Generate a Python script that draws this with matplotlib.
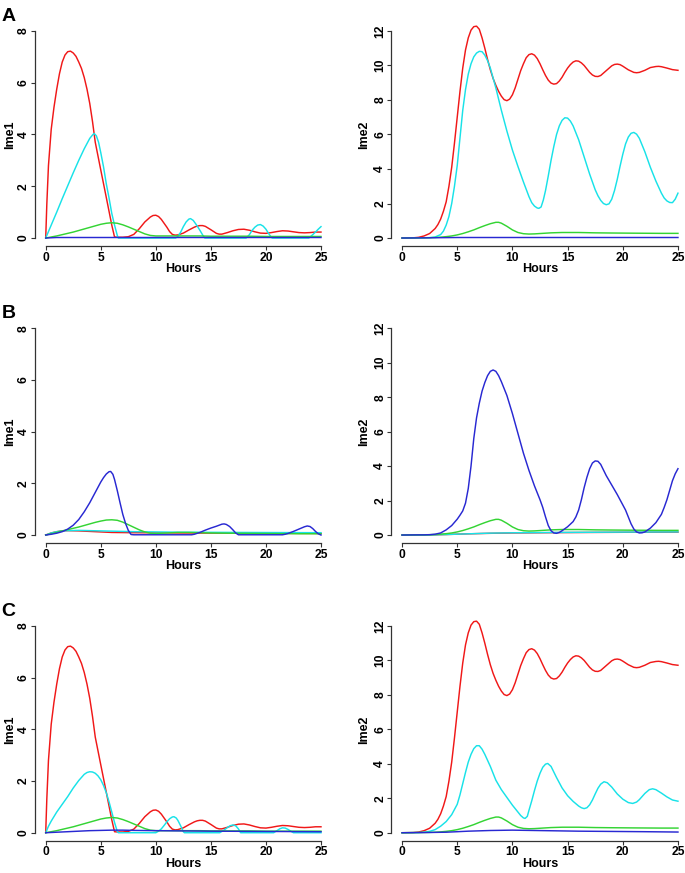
import matplotlib
matplotlib.use('Agg')
import matplotlib.pyplot as plt

plt.rcParams['font.family'] = ['Liberation Sans', 'DejaVu Sans']

# ---------------- data (hour, level) ----------------
# Ime1, red (panels A and C)
ime1_red = [(0, 0), (0.1, 1.3), (0.25, 2.8), (0.5, 4.2), (0.75, 5.05), (1, 5.75), (1.25, 6.35),
            (1.5, 6.8), (1.75, 7.07), (2, 7.2), (2.25, 7.22), (2.5, 7.15), (2.75, 7.02),
            (3, 6.8), (3.25, 6.55), (3.5, 6.2), (3.75, 5.75), (4, 5.2), (4.25, 4.5),
            (4.5, 3.7), (5, 2.63), (5.5, 1.57), (6, 0.5), (6.25, 0.04), (6.5, 0.03),
            (7, 0.03), (7.5, 0.05), (8, 0.14), (8.5, 0.36), (9, 0.62), (9.5, 0.81),
            (9.75, 0.87), (10, 0.88), (10.25, 0.83), (10.5, 0.72), (11, 0.42), (11.25, 0.25),
            (11.5, 0.14), (11.75, 0.11), (12, 0.12), (12.5, 0.19), (13, 0.31), (13.5, 0.42),
            (13.75, 0.46), (14, 0.48), (14.25, 0.48), (14.5, 0.45), (15, 0.32), (15.5, 0.18),
            (15.75, 0.15), (16, 0.15), (16.5, 0.21), (17, 0.28), (17.5, 0.33), (18, 0.34),
            (18.5, 0.3), (19, 0.24), (19.5, 0.19), (20, 0.18), (20.5, 0.21), (21, 0.25),
            (21.5, 0.28), (22, 0.27), (22.5, 0.24), (23, 0.21), (23.5, 0.2), (24, 0.21),
            (24.5, 0.23), (25, 0.23)]

ime1_cyan_A = [(0, 0), (0.5, 0.5), (1, 1.0), (1.5, 1.52), (2, 2.02), (2.5, 2.52), (3, 3.0),
               (3.5, 3.45), (4, 3.85), (4.25, 3.98), (4.4, 4.04), (4.6, 3.95), (4.8, 3.7),
               (5, 3.3), (5.25, 2.75), (5.5, 2.1), (5.75, 1.55), (6, 0.95), (6.25, 0.5),
               (6.5, 0.1), (6.6, 0.0), (11.8, 0.0), (12, 0.06), (12.25, 0.22), (12.5, 0.44),
               (12.75, 0.62), (13, 0.73), (13.15, 0.75), (13.4, 0.68), (13.75, 0.47),
               (14, 0.3), (14.25, 0.12), (14.45, 0.0), (18.2, 0.0), (18.5, 0.13),
               (18.75, 0.3), (19, 0.42), (19.25, 0.5), (19.5, 0.52), (19.75, 0.46),
               (20, 0.34), (20.25, 0.17), (20.5, 0.02), (20.6, 0.0), (23.9, 0.0),
               (24.25, 0.13), (24.5, 0.23), (24.75, 0.34), (25, 0.44)]

ime1_green = [(0, 0), (0.5, 0.04), (1, 0.08), (1.5, 0.13), (2, 0.18), (2.5, 0.23), (3, 0.29),
              (3.5, 0.35), (4, 0.41), (4.5, 0.47), (5, 0.53), (5.5, 0.57), (6, 0.59),
              (6.5, 0.57), (7, 0.51), (7.5, 0.43), (8, 0.34), (8.5, 0.25), (9, 0.16),
              (9.5, 0.1), (10, 0.08), (14, 0.08), (15, 0.07), (18.5, 0.07), (20, 0.06),
              (25, 0.06)]

ime1_blue_A = [(0, 0), (1, 0.02), (25, 0.02)]

# Ime2 (panels A and C)
ime2_red = [(0, 0), (1, 0.01), (1.5, 0.04), (2, 0.12), (2.5, 0.26), (3, 0.55), (3.25, 0.78),
            (3.5, 1.1), (3.75, 1.55), (4, 2.1), (4.25, 3.0), (4.5, 4.1), (4.75, 5.5),
            (5, 7.0), (5.25, 8.5), (5.5, 9.85), (5.75, 10.9), (6, 11.6), (6.25, 12.05),
            (6.5, 12.25), (6.75, 12.28), (7, 12.1), (7.25, 11.6), (7.5, 11.0), (7.75, 10.35),
            (8, 9.75), (8.25, 9.25), (8.5, 8.85), (8.75, 8.5), (9, 8.22), (9.25, 8.02),
            (9.5, 7.96), (9.75, 8.05), (10, 8.3), (10.25, 8.7), (10.5, 9.2), (10.75, 9.7),
            (11, 10.1), (11.25, 10.45), (11.5, 10.63), (11.75, 10.68), (12, 10.6),
            (12.25, 10.4), (12.5, 10.1), (12.75, 9.75), (13, 9.42), (13.25, 9.15),
            (13.5, 8.98), (13.75, 8.92), (14, 8.95), (14.25, 9.1), (14.5, 9.32), (14.75, 9.6),
            (15, 9.85), (15.25, 10.05), (15.5, 10.2), (15.75, 10.27), (16, 10.25),
            (16.25, 10.15), (16.5, 10.0), (16.75, 9.8), (17, 9.6), (17.25, 9.45),
            (17.5, 9.37), (17.75, 9.36), (18, 9.42), (18.5, 9.7), (19, 9.98), (19.25, 10.06),
            (19.5, 10.08), (19.75, 10.05), (20, 9.96), (20.5, 9.75), (21, 9.6),
            (21.25, 9.58), (21.5, 9.6), (22, 9.72), (22.5, 9.88), (23, 9.94), (23.25, 9.95),
            (23.5, 9.93), (24, 9.85), (24.5, 9.76), (25, 9.72)]

ime2_cyan_A = [(0, 0), (2, 0.01), (2.5, 0.02), (3, 0.06), (3.5, 0.2), (3.75, 0.4), (4, 0.75),
               (4.25, 1.25), (4.5, 2.0), (4.75, 3.0), (5, 4.2), (5.25, 5.8), (5.5, 7.4),
               (5.75, 8.6), (6, 9.5), (6.25, 10.1), (6.5, 10.5), (6.75, 10.72), (7, 10.82),
               (7.25, 10.8), (7.5, 10.6), (7.75, 10.28), (8, 9.85), (8.5, 8.7), (9, 7.4),
               (9.5, 6.2), (10, 5.1), (10.5, 4.15), (11, 3.25), (11.5, 2.4), (11.75, 2.05),
               (12, 1.85), (12.25, 1.74), (12.4, 1.72), (12.6, 1.8), (12.8, 2.2), (13, 2.75),
               (13.25, 3.6), (13.5, 4.5), (13.75, 5.3), (14, 6.0), (14.25, 6.5), (14.5, 6.82),
               (14.75, 6.97), (15, 6.95), (15.25, 6.78), (15.5, 6.5), (16, 5.7), (16.5, 4.7),
               (17, 3.7), (17.5, 2.8), (17.75, 2.45), (18, 2.18), (18.25, 2.0), (18.5, 1.93),
               (18.75, 1.98), (19, 2.25), (19.25, 2.75), (19.5, 3.4), (19.75, 4.15),
               (20, 4.85), (20.25, 5.45), (20.5, 5.85), (20.75, 6.07), (21, 6.12),
               (21.25, 6.02), (21.5, 5.78), (22, 5.0), (22.5, 4.1), (23, 3.3), (23.5, 2.6),
               (23.75, 2.32), (24, 2.15), (24.25, 2.06), (24.5, 2.05), (24.75, 2.25),
               (25, 2.6)]

ime2_green = [(0, 0), (1.5, 0.01), (2.5, 0.02), (3, 0.03), (3.5, 0.05), (4, 0.08), (4.5, 0.12),
              (5, 0.18), (5.5, 0.26), (6, 0.36), (6.5, 0.47), (7, 0.6), (7.5, 0.72),
              (8, 0.83), (8.5, 0.91), (8.75, 0.91), (9, 0.86), (9.5, 0.68), (10, 0.47),
              (10.5, 0.32), (11, 0.25), (11.5, 0.23), (12, 0.24), (12.5, 0.26), (13, 0.28),
              (13.5, 0.3), (14, 0.31), (14.5, 0.32), (16, 0.32), (17.5, 0.3), (19, 0.29),
              (21, 0.28), (23.5, 0.27), (25, 0.27)]

ime2_blue_A = [(0, 0), (2, 0.01), (5, 0.03), (25, 0.03)]

# Panel B
ime1_blue_B = [(0, 0), (0.5, 0.03), (1, 0.07), (1.5, 0.13), (2, 0.23), (2.5, 0.38), (3, 0.6),
               (3.5, 0.9), (4, 1.25), (4.5, 1.65), (5, 2.05), (5.25, 2.22), (5.5, 2.36),
               (5.75, 2.45), (5.9, 2.46), (6.1, 2.35), (6.25, 2.15), (6.5, 1.72), (6.75, 1.25),
               (7, 0.8), (7.25, 0.45), (7.5, 0.18), (7.75, 0.02), (8, 0.01), (13.25, 0.01),
               (13.5, 0.03), (14, 0.1), (14.5, 0.19), (15, 0.27), (15.5, 0.34), (15.75, 0.38),
               (16, 0.42), (16.2, 0.43), (16.4, 0.41), (16.7, 0.33), (17, 0.2), (17.25, 0.08),
               (17.5, 0.01), (21.5, 0.01), (21.75, 0.03), (22, 0.06), (22.5, 0.14),
               (23, 0.23), (23.5, 0.32), (23.75, 0.35), (24, 0.33), (24.25, 0.25),
               (24.5, 0.14), (24.75, 0.05), (25, 0.0)]

ime1_green_B = [(0, 0), (0.5, 0.05), (1, 0.1), (1.5, 0.16), (2, 0.21), (2.5, 0.26), (3, 0.31),
                (3.5, 0.37), (4, 0.43), (4.5, 0.49), (5, 0.54), (5.5, 0.58), (6, 0.59),
                (6.5, 0.57), (7, 0.5), (7.5, 0.4), (8, 0.3), (8.5, 0.2), (9, 0.12),
                (9.5, 0.07), (10, 0.06), (11, 0.08), (12, 0.1), (13, 0.1), (14, 0.09),
                (15, 0.08), (17, 0.07), (20, 0.06), (23, 0.05), (25, 0.05)]

ime1_red_B = [(0, 0), (0.5, 0.08), (1, 0.13), (1.5, 0.16), (2, 0.17), (3, 0.16), (4, 0.14),
              (5, 0.12), (6, 0.1), (8, 0.09), (12, 0.08), (18, 0.07), (25, 0.06)]
ime1_cyan_B = [(0, 0), (0.5, 0.08), (1, 0.13), (1.5, 0.16), (2, 0.17), (3, 0.18), (4, 0.17),
               (6, 0.15), (8, 0.13), (12, 0.11), (18, 0.1), (25, 0.09)]

ime2_blue_B = [(0, 0), (1.5, 0.01), (2, 0.01), (2.5, 0.02), (3, 0.05), (3.5, 0.12), (4, 0.3),
               (4.5, 0.55), (5, 0.92), (5.25, 1.15), (5.5, 1.4), (5.75, 1.85), (6, 2.7),
               (6.25, 4.0), (6.5, 5.6), (6.75, 6.8), (7, 7.65), (7.25, 8.35), (7.5, 8.85),
               (7.75, 9.25), (8, 9.5), (8.25, 9.58), (8.5, 9.5), (8.75, 9.25), (9, 8.9),
               (9.5, 8.1), (10, 7.05), (10.5, 5.9), (11, 4.75), (11.5, 3.75), (12, 2.85),
               (12.5, 2.05), (12.75, 1.6), (13, 1.05), (13.25, 0.55), (13.5, 0.25),
               (13.75, 0.12), (14, 0.1), (14.25, 0.15), (14.5, 0.25), (15, 0.48), (15.5, 0.78),
               (15.75, 1.05), (16, 1.45), (16.25, 2.05), (16.5, 2.75), (16.75, 3.35),
               (17, 3.85), (17.25, 4.18), (17.5, 4.3), (17.75, 4.28), (18, 4.1), (18.5, 3.45),
               (19, 2.9), (19.5, 2.35), (20, 1.75), (20.25, 1.45), (20.5, 1.05), (20.75, 0.65),
               (21, 0.35), (21.25, 0.18), (21.5, 0.12), (21.75, 0.13), (22, 0.18), (22.5, 0.4),
               (23, 0.72), (23.5, 1.2), (23.75, 1.6), (24, 2.05), (24.25, 2.6), (24.5, 3.15),
               (24.75, 3.55), (25, 3.85)]

ime2_cyan_B = [(0, 0), (2, 0.0), (4, 0.03), (6, 0.07), (8, 0.11), (10, 0.13), (14, 0.15),
               (20, 0.17), (25, 0.18)]
ime2_red_B = [(0, 0), (2, 0.0), (4, 0.03), (6, 0.07), (8, 0.1), (10, 0.12), (14, 0.14),
              (20, 0.16), (25, 0.17)]

# Panel C
ime1_cyan_C = [(0, 0), (0.25, 0.25), (0.5, 0.45), (1, 0.8), (1.5, 1.1), (2, 1.4), (2.5, 1.73),
               (3, 2.02), (3.5, 2.26), (3.75, 2.33), (4, 2.36), (4.25, 2.35), (4.5, 2.3),
               (4.75, 2.2), (5, 2.05), (5.25, 1.83), (5.5, 1.55), (5.75, 1.2), (6, 0.8),
               (6.25, 0.4), (6.5, 0.05), (6.6, 0.0), (10.0, 0.0), (10.25, 0.06), (10.5, 0.15),
               (10.75, 0.28), (11, 0.42), (11.25, 0.54), (11.5, 0.61), (11.65, 0.62),
               (11.85, 0.57), (12, 0.48), (12.25, 0.27), (12.5, 0.04), (12.6, 0.0),
               (15.8, 0.0), (16, 0.05), (16.25, 0.12), (16.5, 0.2), (16.75, 0.27), (17, 0.3),
               (17.25, 0.27), (17.5, 0.15), (17.7, 0.0), (20.7, 0.0), (21, 0.08),
               (21.25, 0.15), (21.5, 0.19), (21.75, 0.18), (22, 0.13), (22.25, 0.06),
               (22.5, 0.0), (25, 0.0)]

ime1_blue_C = [(0, 0), (1, 0.02), (2, 0.04), (3, 0.06), (4, 0.08), (5, 0.09), (6, 0.1), (7, 0.1),
               (8, 0.09), (10, 0.08), (15, 0.06), (20, 0.05), (25, 0.04)]

ime2_cyan_C = [(0, 0), (1.5, 0.01), (2, 0.03), (2.5, 0.08), (3, 0.18), (3.5, 0.38), (4, 0.65),
               (4.5, 1.05), (5, 1.65), (5.25, 2.2), (5.5, 2.85), (5.75, 3.5), (6, 4.1),
               (6.25, 4.55), (6.5, 4.88), (6.75, 5.05), (7, 5.05), (7.25, 4.85), (7.5, 4.55),
               (8, 3.85), (8.5, 3.05), (9, 2.5), (9.5, 2.05), (10, 1.6), (10.5, 1.2),
               (10.75, 1.0), (11, 0.86), (11.15, 0.83), (11.35, 0.95), (11.5, 1.3),
               (11.75, 1.85), (12, 2.45), (12.25, 3.0), (12.5, 3.45), (12.75, 3.8), (13, 3.98),
               (13.2, 4.02), (13.5, 3.85), (14, 3.2), (14.5, 2.6), (15, 2.15), (15.5, 1.82),
               (16, 1.55), (16.25, 1.45), (16.5, 1.4), (16.75, 1.45), (17, 1.62), (17.25, 1.9),
               (17.5, 2.25), (17.75, 2.58), (18, 2.82), (18.3, 2.96), (18.6, 2.9), (19, 2.65),
               (19.5, 2.25), (20, 1.95), (20.5, 1.75), (20.9, 1.7), (21.25, 1.78),
               (21.5, 1.92), (22, 2.28), (22.4, 2.5), (22.7, 2.55), (23, 2.5), (23.5, 2.3),
               (24, 2.08), (24.5, 1.9), (25, 1.83)]

ime2_blue_C = [(0, 0), (2, 0.01), (4, 0.03), (5, 0.06), (6, 0.09), (7, 0.11), (8, 0.13),
               (9, 0.14), (10, 0.15), (11, 0.14), (12, 0.13), (14, 0.11), (16, 0.09),
               (18, 0.08), (20, 0.07), (22, 0.06), (25, 0.04)]

x_ticks = [0, 5, 10, 15, 20, 25]
ime1_ticks = [0, 2, 4, 6, 8]
ime2_ticks = [0, 2, 4, 6, 8, 10, 12]
panel_letters = ['A', 'B', 'C']

# ---------------- style ----------------
RED = '#F01818'
CYAN = '#18E2E8'
GREEN = '#34D434'
BLUE = '#2828D2'
AXC = '#333333'

W, HP = 685.0, 873.0
fig = plt.figure(figsize=(6.85, 8.73), dpi=100)

cols = [(34.7, 332.0), (391.0, 689.0)]
rows = [(22.7, 246.3), (320.0, 543.3), (617.7, 841.0)]
letter_base = [20.8, 318.2, 615.6]


def make_ax(c, r):
    l, rr = cols[c]
    t, b = rows[r]
    return fig.add_axes([l / W, 1 - b / HP, (rr - l) / W, (b - t) / HP])


def style(ax, ticks, ylabel, lab_x):
    ymax = ticks[-1]
    ax.set_xlim(-1, 26)
    ax.set_ylim(-0.04 * ymax, ymax * 1.04)
    ax.patch.set_visible(False)
    for s in ['top', 'right']:
        ax.spines[s].set_visible(False)
    for s in ['left', 'bottom']:
        ax.spines[s].set_color(AXC)
        ax.spines[s].set_linewidth(0.9)
    ax.spines['left'].set_bounds(0, ymax)
    ax.spines['bottom'].set_bounds(0, 25)
    ax.set_xticks(x_ticks, labels=[str(v) for v in x_ticks], fontsize=8.7, fontweight='bold')
    ax.set_yticks(ticks, labels=[str(v) for v in ticks], fontsize=8.7, fontweight='bold',
                  rotation=90, va='center')
    ax.tick_params(axis='both', direction='out', length=2.8, width=0.8, color=AXC)
    ax.tick_params(axis='x', pad=1.0)
    ax.tick_params(axis='y', pad=0.6)
    ax.set_xlabel('Hours', fontsize=9, fontweight='bold')
    ax.xaxis.set_label_coords(0.5, -0.076)
    ax.set_ylabel(ylabel, fontsize=9, fontweight='bold')
    ax.yaxis.set_label_coords(lab_x, 0.5)


LW = 1.05
panels = [
    (0, 0, [(ime1_red, RED), (ime1_cyan_A, CYAN), (ime1_green, GREEN), (ime1_blue_A, BLUE)]),
    (0, 1, [(ime2_red, RED), (ime2_cyan_A, CYAN), (ime2_green, GREEN), (ime2_blue_A, BLUE)]),
    (1, 0, [(ime1_red_B, RED), (ime1_cyan_B, CYAN), (ime1_green_B, GREEN), (ime1_blue_B, BLUE)]),
    (1, 1, [(ime2_red_B, RED), (ime2_cyan_B, CYAN), (ime2_green, GREEN), (ime2_blue_B, BLUE)]),
    (2, 0, [(ime1_red, RED), (ime1_cyan_C, CYAN), (ime1_green, GREEN), (ime1_blue_C, BLUE)]),
    (2, 1, [(ime2_red, RED), (ime2_cyan_C, CYAN), (ime2_green, GREEN), (ime2_blue_C, BLUE)]),
]

for r, c, series in panels:
    ax = make_ax(c, r)
    for pts, col in series:
        xs = [p[0] for p in pts]
        ys = [p[1] for p in pts]
        ax.plot(xs, ys, color=col, lw=LW, solid_joinstyle='round')
    if c == 0:
        style(ax, ime1_ticks, 'Ime1', -0.063)
    else:
        style(ax, ime2_ticks, 'Ime2', -0.069)

for i, letter in enumerate(panel_letters):
    fig.text(1.5 / W, 1 - letter_base[i] / HP, letter, fontsize=14, fontweight='bold',
             ha='left', va='baseline')

fig.savefig('out.png', dpi=100)
